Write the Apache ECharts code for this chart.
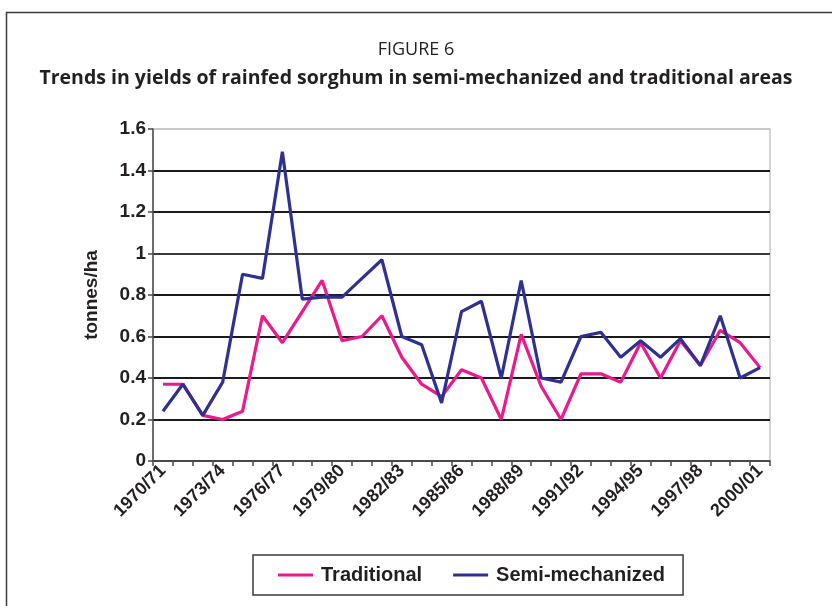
<!DOCTYPE html>
<html>
<head>
<meta charset="utf-8">
<script src="https://cdn.jsdelivr.net/npm/echarts@6/dist/echarts.min.js"></script>
<style>
  html, body { margin: 0; padding: 0; background: #ffffff; }
  #chart { width: 832px; height: 606px; }
</style>
</head>
<body>
<div id="chart"></div>
<script>
// Crop years 1970/71 .. 2000/01
const seasons = [
  '1970/71','1971/72','1972/73','1973/74','1974/75','1975/76','1976/77','1977/78',
  '1978/79','1979/80','1980/81','1981/82','1982/83','1983/84','1984/85','1985/86',
  '1986/87','1987/88','1988/89','1989/90','1990/91','1991/92','1992/93','1993/94',
  '1994/95','1995/96','1996/97','1997/98','1998/99','1999/00','2000/01'
];

// Yields, tonnes per hectare
const traditional = [
  0.37, 0.37, 0.22, 0.20, 0.24, 0.70, 0.57, 0.72, 0.87, 0.58, 0.60,
  0.70, 0.50, 0.37, 0.31, 0.44, 0.40, 0.20, 0.61, 0.36, 0.20,
  0.42, 0.42, 0.38, 0.57, 0.40, 0.58, 0.46, 0.63, 0.57, 0.45
];
const semiMechanized = [
  0.24, 0.37, 0.22, 0.38, 0.90, 0.88, 1.49, 0.78, 0.79, 0.79, 0.88,
  0.97, 0.60, 0.56, 0.28, 0.72, 0.77, 0.40, 0.87, 0.40, 0.38,
  0.60, 0.62, 0.50, 0.58, 0.50, 0.59, 0.46, 0.70, 0.40, 0.45
];

const yTicks = [0, 0.2, 0.4, 0.6, 0.8, 1, 1.2, 1.4, 1.6];

const chart = echarts.init(document.getElementById('chart'), null, { renderer: 'canvas' });

const textColor = '#231f20';
const axisFont = 'Liberation Sans, Arial, sans-serif';

chart.setOption({
  backgroundColor: '#ffffff',
  animation: false,
  graphic: [
    {
      type: 'rect',
      shape: { x: 6.5, y: 12.5, width: 900, height: 700 },
      style: { fill: 'none', stroke: '#3a3a3a', lineWidth: 1.5 },
      silent: true
    },
    {
      type: 'text',
      left: 'center',
      top: 41,
      style: {
        text: 'FIGURE 6',
        font: '400 18px "Open Sans", sans-serif',
        fill: textColor
      }
    },
    {
      type: 'text',
      left: 'center',
      top: 68,
      style: {
        text: 'Trends in yields of rainfed sorghum in semi-mechanized and traditional areas',
        font: '700 19.5px "Open Sans", sans-serif',
        fill: textColor
      }
    }
  ],
  legend: {
    left: 253,
    top: 555,
    orient: 'horizontal',
    data: ['Traditional', 'Semi-mechanized'],
    icon: 'rect',
    itemWidth: 35,
    itemHeight: 3,
    itemGap: 31,
    padding: [10, 18, 10, 25],
    borderColor: '#3a3a3a',
    borderWidth: 1.5,
    textStyle: {
      fontFamily: axisFont,
      fontWeight: 'bold',
      fontSize: 20,
      color: textColor,
      padding: [0, 0, 0, 3]
    }
  },
  grid: {
    left: 153,
    right: 62,
    top: 129,
    bottom: 145,
    show: true,
    borderColor: '#c8c8c8',
    borderWidth: 1.5
  },
  xAxis: {
    type: 'category',
    data: seasons,
    boundaryGap: true,
    axisLine: { lineStyle: { color: '#4a4a4a', width: 1.5 } },
    axisTick: { show: true, interval: 0, length: 5, lineStyle: { color: '#4a4a4a', width: 1.5 } },
    axisLabel: {
      interval: 2,
      rotate: 45,
      margin: 7,
      fontFamily: axisFont,
      fontWeight: 'bold',
      fontSize: 18,
      color: textColor
    },
    splitLine: { show: false }
  },
  yAxis: {
    type: 'value',
    min: yTicks[0],
    max: yTicks[yTicks.length - 1],
    interval: 0.2,
    name: 'tonnes/ha',
    nameLocation: 'middle',
    nameRotate: 90,
    nameGap: 52,
    nameTextStyle: {
      fontFamily: axisFont,
      fontWeight: 'bold',
      fontSize: 19,
      color: textColor
    },
    axisLine: { show: true, lineStyle: { color: '#4a4a4a', width: 1.5 } },
    axisTick: { show: true, length: 5, lineStyle: { color: '#4a4a4a', width: 1.5 } },
    axisLabel: {
      margin: 7,
      fontFamily: axisFont,
      fontWeight: 'bold',
      fontSize: 19,
      color: textColor,
      formatter: v => String(Math.round(v * 10) / 10)
    },
    splitLine: {
      show: true,
      lineStyle: {
        color: ['#4a4a4a', '#1a1a1a', '#1a1a1a', '#1a1a1a', '#1a1a1a', '#3a3a3a', '#1a1a1a', '#1a1a1a', '#c8c8c8'],
        width: 2.2
      }
    }
  },
  series: [
    {
      name: 'Traditional',
      type: 'line',
      data: traditional,
      symbol: 'none',
      itemStyle: { color: '#ec198c' },
      lineStyle: { color: '#ec198c', width: 3.2 },
      z: 2
    },
    {
      name: 'Semi-mechanized',
      type: 'line',
      data: semiMechanized,
      symbol: 'none',
      itemStyle: { color: '#2e3192' },
      lineStyle: { color: '#2e3192', width: 3.2 },
      z: 3
    }
  ]
});
</script>
</body>
</html>
